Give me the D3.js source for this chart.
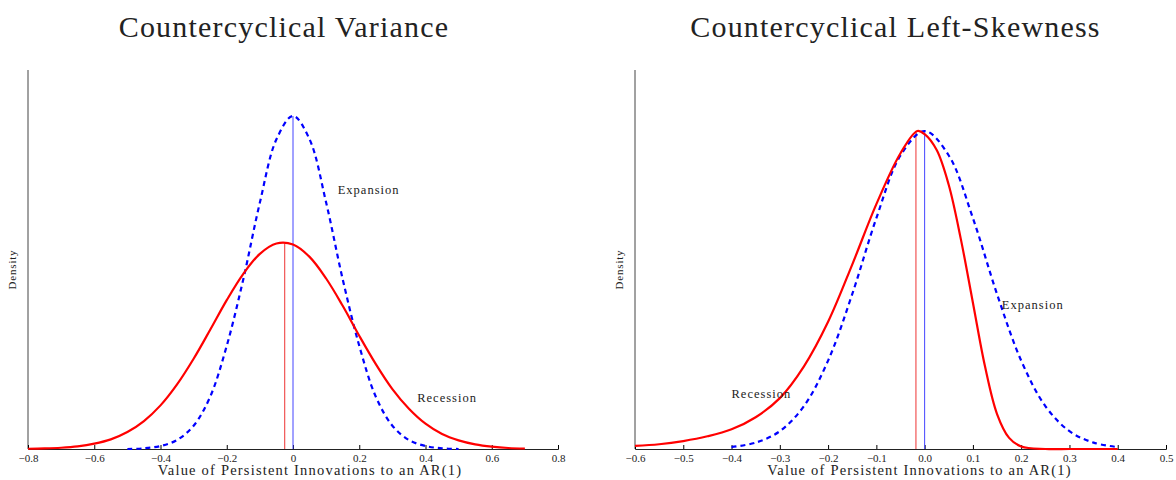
<!DOCTYPE html>
<html><head><meta charset="utf-8">
<script src="https://cdn.jsdelivr.net/npm/d3@7"></script>
<style>body{margin:0;background:#fff}text{font-family:"Liberation Serif","DejaVu Serif",serif;fill:#222}</style>
</head><body>
<svg id="chart" width="1176" height="480"></svg>
<script>
// left panel: countercyclical variance
const leftExpX = [-0.5,-0.45,-0.4,-0.35,-0.3,-0.25,-0.2,-0.15,-0.1,-0.05,0,0.05,0.1,0.15,0.2,0.25,0.3,0.35,0.4,0.45,0.5]
const leftExpY = [0,0.002,0.009,0.027,0.07,0.157,0.31,0.51,0.74,0.93,1,0.93,0.74,0.51,0.31,0.157,0.07,0.027,0.009,0.002,0]
const leftRecX = [-0.8,-0.75,-0.7,-0.65,-0.6,-0.55,-0.5,-0.45,-0.4,-0.35,-0.3,-0.25,-0.2,-0.15,-0.1,-0.05,0,0.05,0.1,0.15,0.2,0.25,0.3,0.35,0.4,0.45,0.5,0.55,0.6,0.65,0.7]
const leftRecY = [0.0007,0.0017,0.0038,0.008,0.016,0.029,0.051,0.084,0.131,0.194,0.271,0.358,0.447,0.526,0.586,0.617,0.614,0.577,0.512,0.43,0.34,0.255,0.18,0.121,0.076,0.045,0.026,0.014,0.007,0.003,0.0015]
// right panel: countercyclical left-skewness
const rightExpX = [-0.4,-0.35,-0.3,-0.25,-0.2,-0.15,-0.1,-0.05,0,0.05,0.1,0.15,0.2,0.25,0.3,0.35,0.4]
const rightExpY = [0.006,0.02,0.056,0.135,0.278,0.487,0.726,0.923,1,0.923,0.726,0.487,0.278,0.135,0.056,0.02,0.006]
const rightRecX = [-0.6,-0.55,-0.5,-0.45,-0.4,-0.35,-0.3,-0.25,-0.2,-0.15,-0.1,-0.05,-0.015,0,0.025,0.05,0.075,0.1,0.125,0.15,0.175,0.2,0.25,0.3,0.35,0.4]
const rightRecY = [0.01,0.015,0.025,0.04,0.062,0.1,0.16,0.26,0.4,0.58,0.77,0.93,1,0.99,0.94,0.83,0.66,0.46,0.26,0.11,0.035,0.008,0,0,0,0]

const panels = [
  {title:"Countercyclical Variance", x0:28, x1:558, dom:[-0.8,0.8], ticks:d3.range(-0.8,0.81,0.2), fmt:d=>Math.abs(d)<1e-9?"0":d3.format(".1f")(d).replace("-","\u2212"),
   exp:[leftExpX,leftExpY], rec:[leftRecX,leftRecY], peak:333, vRec:-0.025, vExp:0, tdx:-9, ldx:17,
   labels:[["Expansion",0.135,0.765],["Recession",0.375,0.14]]},
  {title:"Countercyclical Left-Skewness", x0:635, x1:1166, dom:[-0.6,0.5], ticks:d3.range(-0.6,0.51,0.1), fmt:d=>d3.format(".1f")(Math.abs(d)<1e-9?0:d).replace("-","\u2212"),
   exp:[rightExpX,rightExpY], rec:[rightRecX,rightRecY], peak:318, vRec:-0.018, vExp:0, tdx:-5, ldx:19,
   labels:[["Expansion",0.16,0.44],["Recession",-0.4,0.16]]}
]

const svg = d3.select("#chart")
const base = 449, axisTop = 70

panels.forEach(p=>{
  const g = svg.append("g")
  const x = d3.scaleLinear().domain(p.dom).range([p.x0,p.x1])
  const y = d3.scaleLinear().domain([0,1]).range([base, base-p.peak])

  g.append("text").attr("x",(p.x0+p.x1)/2+p.tdx).attr("y",37).attr("text-anchor","middle")
    .style("font-size","30px").style("letter-spacing","1.2px").text(p.title)
  g.append("line").attr("x1",p.x0).attr("x2",p.x0).attr("y1",axisTop).attr("y2",base).attr("stroke","#444")
  g.append("text").attr("transform",`translate(${p.x0-12},${(axisTop+base)/2+10}) rotate(-90)`)
    .attr("text-anchor","middle").style("font-size","11px").style("letter-spacing","0.8px").text("Density")

  const ax = g.append("g").attr("transform",`translate(0,${base})`)
    .call(d3.axisBottom(x).tickValues(p.ticks).tickSize(-4).tickPadding(5).tickFormat(p.fmt))
  ax.select(".domain").attr("stroke","#222")
  ax.selectAll("text").style("font-size","11px").style("font-family","Liberation Serif, serif")
  g.append("text").attr("x",(p.x0+p.x1)/2+p.ldx).attr("y",475).attr("text-anchor","middle")
    .style("font-size","14.5px").style("letter-spacing","1.2px").text("Value of Persistent Innovations to an AR(1)")

  const line = d3.line().x(d=>x(d[0])).y(d=>y(d[1])).curve(d3.curveCatmullRom)
  const rec = d3.zip(p.rec[0],p.rec[1]), exp = d3.zip(p.exp[0],p.exp[1])
  const peakOf = arr => d3.max(arr,d=>d[1])
  g.append("line").attr("x1",x(p.vRec)).attr("x2",x(p.vRec)).attr("y1",base).attr("y2",y(peakOf(rec)))
    .attr("stroke","#e33").attr("stroke-width",1)
  g.append("line").attr("x1",x(p.vExp)).attr("x2",x(p.vExp)).attr("y1",base).attr("y2",y(peakOf(exp)))
    .attr("stroke","#44f").attr("stroke-width",1)
  g.append("path").attr("d",line(exp)).attr("fill","none").attr("stroke","#0000ff")
    .attr("stroke-width",2.2).attr("stroke-dasharray","5,4")
  g.append("path").attr("d",line(rec)).attr("fill","none").attr("stroke","#ff0000").attr("stroke-width",2.2)

  p.labels.forEach(l=>{
    g.append("text").attr("x",x(l[1])).attr("y",y(l[2])).style("font-size","12.5px")
      .style("letter-spacing","1px").text(l[0])
  })
})
</script>
</body></html>
